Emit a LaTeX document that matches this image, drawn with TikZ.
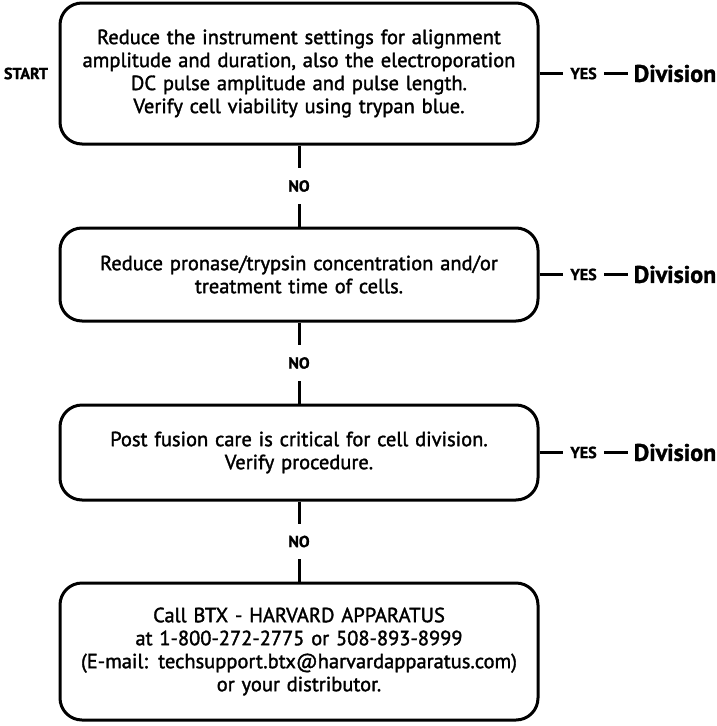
\documentclass[tikz,border=0pt]{standalone}
\usepackage{fontspec}
\setmainfont{PT Sans}[BoldFeatures={RawFeature={embolden=1.3}}]
\newfontfamily\boxfont{PT Sans}[RawFeature={embolden=1.6}]
\usetikzlibrary{positioning}

\begin{document}
\begin{tikzpicture}[x=1pt,y=-1pt]
      \tikzstyle{every node} = [font=\boxfont\fontsize{20.5}{23}\selectfont]
      \tikzstyle{stage} = [draw, rectangle, line width=3pt, rounded corners=22pt, minimum width=478pt, text width=466pt, align=center]
      \tikzstyle{answer} = [font=\fontsize{16}{16}\selectfont\bfseries, fill=white, inner xsep=7pt, inner ysep=12pt]
      \tikzstyle{outcome} = [font=\fontsize{24}{24}\selectfont\bfseries, inner xsep=6pt]
      \tikzstyle{link} = [line width=3pt]
      \useasboundingbox (0,0) rectangle (717,726);
      \node[stage, minimum height=141pt] at (299,73.5) (reduceSettings){Reduce the instrument settings for alignment\\ amplitude and duration, also the electroporation\\ DC pulse amplitude and pulse length.\\ Verify cell viability using trypan blue.};
      \node[stage, minimum height=93pt, below of=reduceSettings, node distance=201pt](reduceProtease){Reduce pronase/trypsin concentration and/or\\ treatment time of cells.};
      \node[stage, minimum height=95pt, below of=reduceProtease, node distance=178pt](postFusion){Post fusion care is critical for cell division.\\ Verify procedure.};
      \node[stage, minimum height=137pt, below of=postFusion, node distance=199pt](callBTX){Call BTX - HARVARD APPARATUS\\ at 1-800-272-2775 or 508-893-8999\\ (E-mail: techsupport.btx@harvardapparatus.com)\\ or your distributor.};
      \node[answer, fill=none, left of=reduceSettings, node distance=273pt](start){START};
      \node[outcome, right of=reduceSettings, node distance=376pt](divisionA){Division};
      \node[outcome, right of=reduceProtease, node distance=376pt](divisionB){Division};
      \node[outcome, right of=postFusion, node distance=376pt](divisionC){Division};
      % Connections
      \draw[link]
      (reduceSettings) -- node[answer]{NO} (reduceProtease);
      \draw[link]
      (reduceProtease) -- node[answer]{NO} (postFusion);
      \draw[link]
      (postFusion) -- node[answer]{NO} (callBTX);
      \draw[link]
      (reduceSettings.east) -- node[answer]{YES} (divisionA.west);
      \draw[link]
      (reduceProtease.east) -- node[answer]{YES} (divisionB.west);
      \draw[link]
      (postFusion.east) -- node[answer]{YES} (divisionC.west);
    \end{tikzpicture}
\end{document}
